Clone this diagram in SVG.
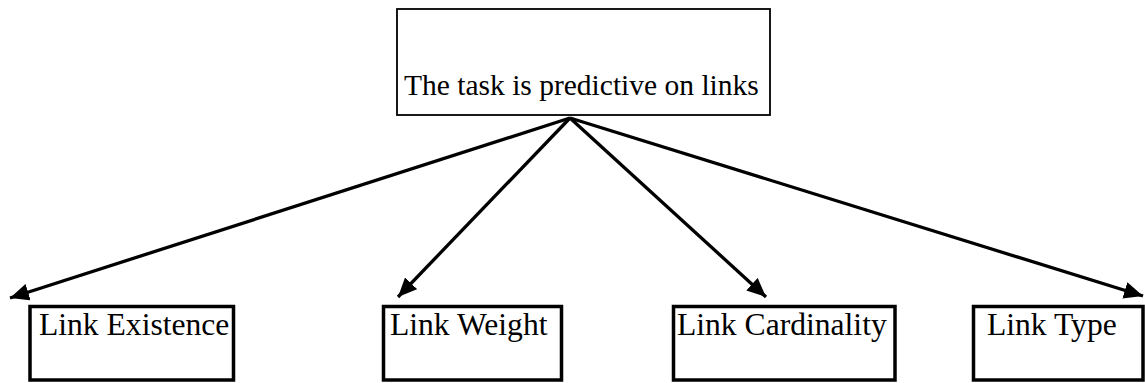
<svg xmlns="http://www.w3.org/2000/svg" width="1145" height="383" viewBox="0 0 1145 383">
<style>
.box{fill:#fff;stroke:#000;stroke-width:3.5}
.top{fill:#fff;stroke:#000;stroke-width:1.8}
.lbl{font-family:"Liberation Serif","Times New Roman",serif;font-size:31.6px;fill:#000}
.ttl{font-family:"Liberation Serif","Times New Roman",serif;font-size:29.5px;fill:#000}
.conn{stroke:#000;stroke-width:3.3;fill:none;marker-end:url(#ah)}
</style>
<defs>
<marker id="ah" markerUnits="userSpaceOnUse" markerWidth="21" markerHeight="18" refX="19" refY="8.5" orient="auto">
<path d="M0,0 L19,8.5 L0,17 z" fill="#000"/>
</marker>
</defs>
<rect width="1145" height="383" fill="#fff"/>
<g id="connectors">
<line class="conn" x1="570" y1="118" x2="10" y2="298"/>
<line class="conn" x1="570" y1="118" x2="398" y2="297"/>
<line class="conn" x1="570" y1="118" x2="766" y2="297"/>
<line class="conn" x1="570" y1="118" x2="1143" y2="296"/>
</g>
<g id="node-task">
<rect class="top" x="397" y="9" width="373" height="106"/>
<text class="ttl" x="404" y="95">The task is predictive on links</text>
</g>
<g id="node-existence">
<rect class="box" x="30" y="306.5" width="203.5" height="73.5"/>
<text class="lbl" x="39" y="335">Link Existence</text>
</g>
<g id="node-weight">
<rect class="box" x="383.5" y="306.5" width="178" height="73.5"/>
<text class="lbl" x="390" y="335">Link Weight</text>
</g>
<g id="node-cardinality">
<rect class="box" x="673.5" y="306.5" width="221.5" height="73.5"/>
<text class="lbl" x="677" y="335">Link Cardinality</text>
</g>
<g id="node-type">
<rect class="box" x="973.5" y="306.5" width="169.5" height="73.5"/>
<text class="lbl" x="987" y="335">Link Type</text>
</g>
</svg>
